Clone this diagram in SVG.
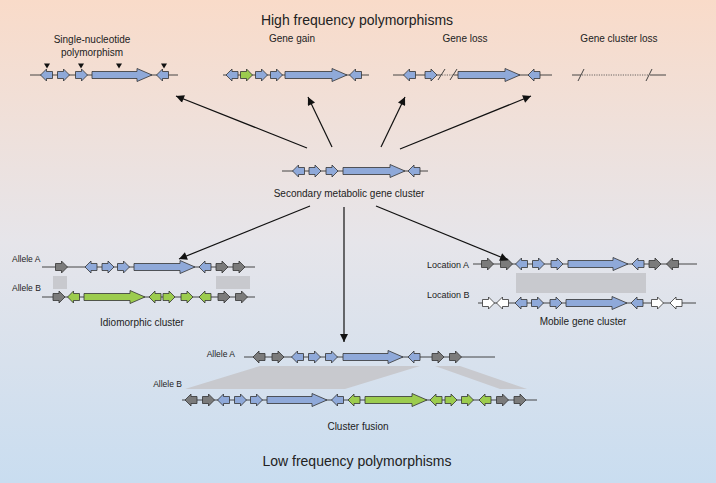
<svg xmlns="http://www.w3.org/2000/svg" xmlns:xlink="http://www.w3.org/1999/xlink" width="716" height="483" viewBox="0 0 716 483">
<defs>
<linearGradient id="bg" x1="0" y1="0" x2="0" y2="1">
<stop offset="0" stop-color="#f9dbc9"/>
<stop offset="0.5" stop-color="#e6e5ea"/>
<stop offset="1" stop-color="#c9ddf0"/>
</linearGradient>
<path id="r" d="M-6,-3.5H0V-6L6,0L0,6V3.5H-6Z"/>
<path id="l" d="M6,-3.5H0V-6L-6,0L0,6V3.5H6Z"/>
<marker id="ah" viewBox="0 0 10 10" refX="10" refY="5" markerUnits="userSpaceOnUse" markerWidth="10" markerHeight="8" orient="auto">
<path d="M0,0L10,5L0,10Z" fill="#111"/>
</marker>
</defs>
<style>
text{font-family:"Liberation Sans",Arial,sans-serif;fill:#222;font-size:10px;text-anchor:middle}
.t{font-size:14px}
.s{text-anchor:start;font-size:8.5px}
.e{text-anchor:end;font-size:8.5px}
.ln{stroke:#333;stroke-width:0.9;fill:none}
.dt{stroke:#444;stroke-width:0.8;stroke-dasharray:1.2 1.2;fill:none}
.b,.g,.k,.w{stroke:#333;stroke-width:0.8}
.b{fill:#8fa9d9}
.g{fill:#9ccc4e}
.k{fill:#7b7b7b}
.w{fill:#ffffff}
.box{fill:#c8c9ce}
.tri{fill:#111}
.ar{stroke:#111;stroke-width:1.2;fill:none;marker-end:url(#ah)}
</style>
<rect x="0" y="0" width="716" height="483" fill="url(#bg)"/>
<text class="t" x="357" y="25">High frequency polymorphisms</text>
<text class="t" x="357" y="466">Low frequency polymorphisms</text>

<g id="snp">
<text x="92" y="43">Single-nucleotide</text>
<text x="92" y="56">polymorphism</text>
<line class="ln" x1="30" y1="75" x2="178" y2="75"/>
<use href="#l" class="b" x="46.5" y="75"/>
<use href="#r" class="b" x="63.5" y="75"/>
<use href="#r" class="b" x="81.5" y="75"/>
<path class="b" d="M92,71.5H137V68.5L152,75L137,81.5V78.5H92Z"/>
<use href="#l" class="b" x="162.5" y="75"/>
<path class="tri" d="M44,63.5H50L47,68.5Z"/>
<path class="tri" d="M78,63.5H84L81,68.5Z"/>
<path class="tri" d="M116,63.5H122L119,68.5Z"/>
<path class="tri" d="M161,63.5H167L164,68.5Z"/>
</g>

<g id="gene-gain">
<text x="292" y="42">Gene gain</text>
<line class="ln" x1="223" y1="75" x2="369" y2="75"/>
<use href="#l" class="b" x="232" y="75"/>
<use href="#r" class="g" x="246.5" y="75"/>
<use href="#r" class="b" x="261.5" y="75"/>
<use href="#r" class="b" x="276.5" y="75"/>
<path class="b" d="M285,71.5H332V68.5L347,75L332,81.5V78.5H285Z"/>
<use href="#l" class="b" x="355.5" y="75"/>
</g>

<g id="gene-loss">
<text x="465" y="42">Gene loss</text>
<line class="ln" x1="393" y1="75" x2="441" y2="75"/>
<line class="dt" x1="442" y1="75" x2="453" y2="75"/>
<line class="ln" x1="454" y1="75" x2="552" y2="75"/>
<line class="ln" x1="438" y1="80" x2="445" y2="69"/>
<line class="ln" x1="450" y1="80" x2="457" y2="69"/>
<use href="#l" class="b" x="409.5" y="75"/>
<use href="#r" class="b" x="431" y="75"/>
<path class="b" d="M458,71.5H505V68.5L520,75L505,81.5V78.5H458Z"/>
<use href="#l" class="b" x="534" y="75"/>
</g>

<g id="cluster-loss">
<text x="619" y="42">Gene cluster loss</text>
<line class="ln" x1="572" y1="75" x2="581" y2="75"/>
<line class="dt" x1="582" y1="75" x2="649" y2="75"/>
<line class="ln" x1="650" y1="75" x2="666" y2="75"/>
<line class="ln" x1="578" y1="81" x2="584" y2="69"/>
<line class="ln" x1="646" y1="81" x2="652" y2="69"/>
</g>

<g id="center">
<line class="ln" x1="282" y1="171" x2="428" y2="171"/>
<use href="#l" class="b" x="298.5" y="171"/>
<use href="#r" class="b" x="315" y="171"/>
<use href="#r" class="b" x="332" y="171"/>
<path class="b" d="M343,167.5H390V164.5L405,171L390,177.5V174.5H343Z"/>
<use href="#l" class="b" x="414" y="171"/>
<text x="349" y="197">Secondary metabolic gene cluster</text>
</g>

<g id="idiomorphic">
<rect class="box" x="53" y="276" width="14" height="13"/>
<rect class="box" x="216" y="276" width="34" height="13"/>
<text class="s" x="12" y="262">Allele A</text>
<line class="ln" x1="42" y1="267" x2="255" y2="267"/>
<use href="#r" class="k" x="61.5" y="267"/>
<use href="#l" class="b" x="91" y="267"/>
<use href="#r" class="b" x="108" y="267"/>
<use href="#r" class="b" x="123.5" y="267"/>
<path class="b" d="M134,263.5H180V260.5L195,267L180,273.5V270.5H134Z"/>
<use href="#l" class="b" x="205" y="267"/>
<use href="#r" class="k" x="222" y="267"/>
<use href="#r" class="k" x="239" y="267"/>
<text class="s" x="12" y="291">Allele B</text>
<line class="ln" x1="42" y1="297" x2="255" y2="297"/>
<use href="#r" class="k" x="59" y="297"/>
<use href="#l" class="g" x="73.5" y="297"/>
<path class="g" d="M84,293.5H130V290.5L145,297L130,303.5V300.5H84Z"/>
<use href="#l" class="g" x="155" y="297"/>
<use href="#r" class="g" x="169" y="297"/>
<use href="#r" class="g" x="187" y="297"/>
<use href="#l" class="g" x="205" y="297"/>
<use href="#r" class="k" x="224" y="297"/>
<use href="#r" class="k" x="241.5" y="297"/>
<text x="142" y="326">Idiomorphic cluster</text>
</g>

<g id="mobile">
<rect class="box" x="516" y="273" width="130" height="20"/>
<text class="s" x="427" y="268" style="font-size:9px">Location A</text>
<line class="ln" x1="473" y1="264" x2="697" y2="264"/>
<use href="#r" class="k" x="487.5" y="264"/>
<use href="#r" class="k" x="506.5" y="264"/>
<use href="#l" class="b" x="521.5" y="264"/>
<use href="#r" class="b" x="538.5" y="264"/>
<use href="#r" class="b" x="557" y="264"/>
<path class="b" d="M568,260.5H613V257.5L628,264L613,270.5V267.5H568Z"/>
<use href="#l" class="b" x="638" y="264"/>
<use href="#r" class="k" x="655" y="264"/>
<use href="#l" class="k" x="672.5" y="264"/>
<text class="s" x="427" y="298" style="font-size:9px">Location B</text>
<line class="ln" x1="478" y1="303" x2="696" y2="303"/>
<use href="#r" class="w" x="488.5" y="303"/>
<use href="#l" class="w" x="502.5" y="303"/>
<use href="#l" class="b" x="521" y="303"/>
<use href="#r" class="b" x="537.5" y="303"/>
<use href="#r" class="b" x="556" y="303"/>
<path class="b" d="M566,299.5H612V296.5L627,303L612,309.5V306.5H566Z"/>
<use href="#l" class="b" x="637" y="303"/>
<use href="#r" class="w" x="657.5" y="303"/>
<use href="#l" class="w" x="676" y="303"/>
<text x="583" y="325">Mobile gene cluster</text>
</g>

<g id="fusion">
<path class="box" d="M260,366H420L345,389H185Z"/>
<path class="box" d="M435,366H460L527,389H500Z"/>
<text class="e" x="235" y="357">Allele A</text>
<line class="ln" x1="244" y1="357" x2="495" y2="357"/>
<use href="#l" class="k" x="259" y="357"/>
<use href="#r" class="k" x="278" y="357"/>
<use href="#l" class="b" x="297.5" y="357"/>
<use href="#r" class="b" x="314.5" y="357"/>
<use href="#r" class="b" x="331.5" y="357"/>
<path class="b" d="M343,353.5H388V350.5L403,357L388,363.5V360.5H343Z"/>
<use href="#l" class="b" x="414" y="357"/>
<use href="#r" class="k" x="438" y="357"/>
<use href="#r" class="k" x="455.5" y="357"/>
<text class="e" x="182" y="387">Allele B</text>
<line class="ln" x1="182" y1="400" x2="537" y2="400"/>
<use href="#l" class="k" x="191" y="400"/>
<use href="#r" class="k" x="208.5" y="400"/>
<use href="#l" class="b" x="223.5" y="400"/>
<use href="#r" class="b" x="240.5" y="400"/>
<use href="#r" class="b" x="256.5" y="400"/>
<path class="b" d="M267,396.5H312V393.5L327,400L312,406.5V403.5H267Z"/>
<use href="#l" class="b" x="337.5" y="400"/>
<use href="#l" class="g" x="354" y="400"/>
<path class="g" d="M365,396.5H412V393.5L427,400L412,406.5V403.5H365Z"/>
<use href="#l" class="g" x="436" y="400"/>
<use href="#r" class="g" x="451" y="400"/>
<use href="#r" class="g" x="467.5" y="400"/>
<use href="#l" class="g" x="485" y="400"/>
<use href="#r" class="k" x="502.5" y="400"/>
<use href="#r" class="k" x="520" y="400"/>
<text x="358" y="430">Cluster fusion</text>
</g>

<g id="connectors">
<line class="ar" x1="307" y1="148" x2="176" y2="96"/>
<line class="ar" x1="332" y1="147" x2="308" y2="97"/>
<line class="ar" x1="381" y1="147" x2="405" y2="97"/>
<line class="ar" x1="400" y1="149" x2="531" y2="96"/>
<line class="ar" x1="310" y1="206" x2="179" y2="259"/>
<line class="ar" x1="344" y1="207" x2="344" y2="342"/>
<line class="ar" x1="376" y1="206" x2="508" y2="260"/>
</g>
</svg>
